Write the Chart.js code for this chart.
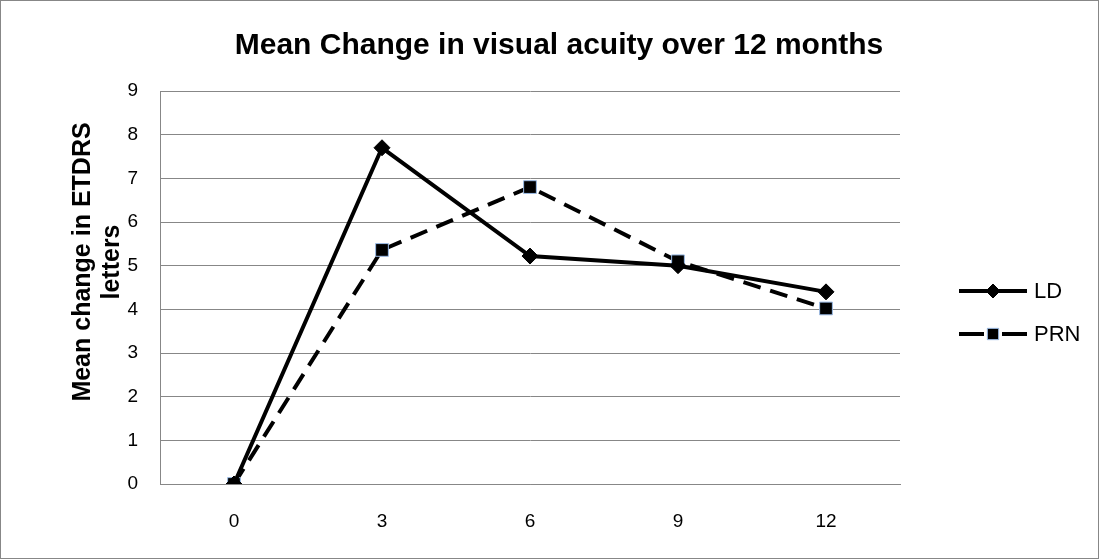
<!DOCTYPE html>
<html>
<head>
<meta charset="utf-8">
<script src="https://cdn.jsdelivr.net/npm/chart.js@4"></script>
<style>
    html, body { margin: 0; padding: 0; background: #fff; }
    #wrap { width: 1099px; height: 559px; }
</style>
</head>
<body>
<div id="wrap"><canvas id="acuityChart" width="1099" height="559"></canvas></div>
<script>
// data
const months = ['0', '3', '6', '9', '12'];
const ldValues = [0, 7.7, 5.22, 5.0, 4.4];
const prnValues = [0, 5.36, 6.8, 5.1, 4.02];
const seriesNames = ['LD', 'PRN'];
const chartTitle = 'Mean Change in visual acuity over 12 months';
const yTitle = ['Mean change in ETDRS', 'letters'];

const FONT = 'Liberation Sans, Arial, sans-serif';
const GRID = '#878787';

// frame, chart title and axis title (office style placement)
const framePlugin = {
    id: 'frame',
    afterDraw(chart) {
        const c = chart.ctx;
        c.save();
        c.strokeStyle = GRID;
        c.lineWidth = 1;
        c.strokeRect(0.5, 0.5, chart.width - 1, chart.height - 1);
        c.fillStyle = '#000';
        c.font = 'bold 30px ' + FONT;
        c.textAlign = 'center';
        c.textBaseline = 'middle';
        c.fillText(chartTitle, 559, 46);

        // y axis title, rotated
        c.translate(83, 262);
        c.rotate(-Math.PI / 2);
        c.font = 'bold 25px ' + FONT;
        c.fillText(yTitle[0], 0, 0);
        c.fillText(yTitle[1], 0, 29);
        c.restore();
    }
};

// legend with a line + marker sample
const sideLegend = {
    id: 'sideLegend',
    afterDraw(chart) {
        const c = chart.ctx;
        const area = chart.chartArea;
        const x0 = area.right + 59;
        const rows = [area.top + 200, area.top + 243];
        chart.data.datasets.forEach((ds, i) => {
            const y = rows[i];
            c.save();
            c.strokeStyle = '#000';
            c.lineWidth = 4;
            c.beginPath();
            if (i === 1) {
                c.moveTo(x0, y); c.lineTo(x0 + 25, y);
                c.moveTo(x0 + 43, y); c.lineTo(x0 + 68, y);
            } else {
                c.moveTo(x0, y); c.lineTo(x0 + 68, y);
            }
            c.stroke();
            c.lineWidth = 1;
            c.fillStyle = '#000';
            c.strokeStyle = ds.pointBorderColor;
            Chart.helpers.drawPoint(c, {
                pointStyle: ds.pointStyle,
                radius: ds.pointRadius - 1,
                rotation: 0,
                borderWidth: ds.pointBorderWidth
            }, x0 + 34, y);
            c.fillStyle = '#000';
            c.font = '22px ' + FONT;
            c.textBaseline = 'middle';
            c.textAlign = 'left';
            c.fillText(ds.label, x0 + 75, y + 1);
            c.restore();
        });
    }
};

const ctx = document.getElementById('acuityChart');
new Chart(ctx, {
    type: 'line',
    data: {
        labels: months,
        datasets: [
            {
                label: seriesNames[0],
                data: ldValues,
                borderColor: '#000',
                borderWidth: 4,
                fill: false,
                tension: 0,
                pointStyle: 'rectRot',
                pointRadius: 8,
                pointBackgroundColor: '#000',
                pointBorderColor: '#000',
                pointBorderWidth: 1,
            },
            {
                label: seriesNames[1],
                data: prnValues,
                borderColor: '#000',
                borderWidth: 4,
                borderDash: [18, 10],
                fill: false,
                tension: 0,
                pointStyle: 'rect',
                pointRadius: 9,
                pointBackgroundColor: '#000',
                pointBorderColor: '#9bbbe6',
                pointBorderWidth: 1,
            }
        ]
    },
    options: {
        responsive: false,
        animation: false,
        devicePixelRatio: 1,
        layout: { padding: { top: 91, right: 199, bottom: 0, left: 72 } },
        plugins: {
            legend: { display: false },
            tooltip: { enabled: false },
            title: { display: false }
        },
        scales: {
            x: {
                offset: true,
                grid: { display: false, drawTicks: false },
                border: { color: GRID, width: 1 },
                ticks: { color: '#000', padding: 26, font: { family: FONT, size: 19 } },
                afterFit(scale) { scale.height = 75; }
            },
            y: {
                min: 0,
                max: 9,
                ticks: { stepSize: 1, color: '#000', padding: 22, font: { family: FONT, size: 19 } },
                grid: { color: GRID, lineWidth: 1, drawTicks: false },
                border: { color: GRID, width: 1 },
                afterFit(scale) { scale.width = 88; }
            }
        }
    },
    plugins: [framePlugin, sideLegend]
});
</script>
</body>
</html>
